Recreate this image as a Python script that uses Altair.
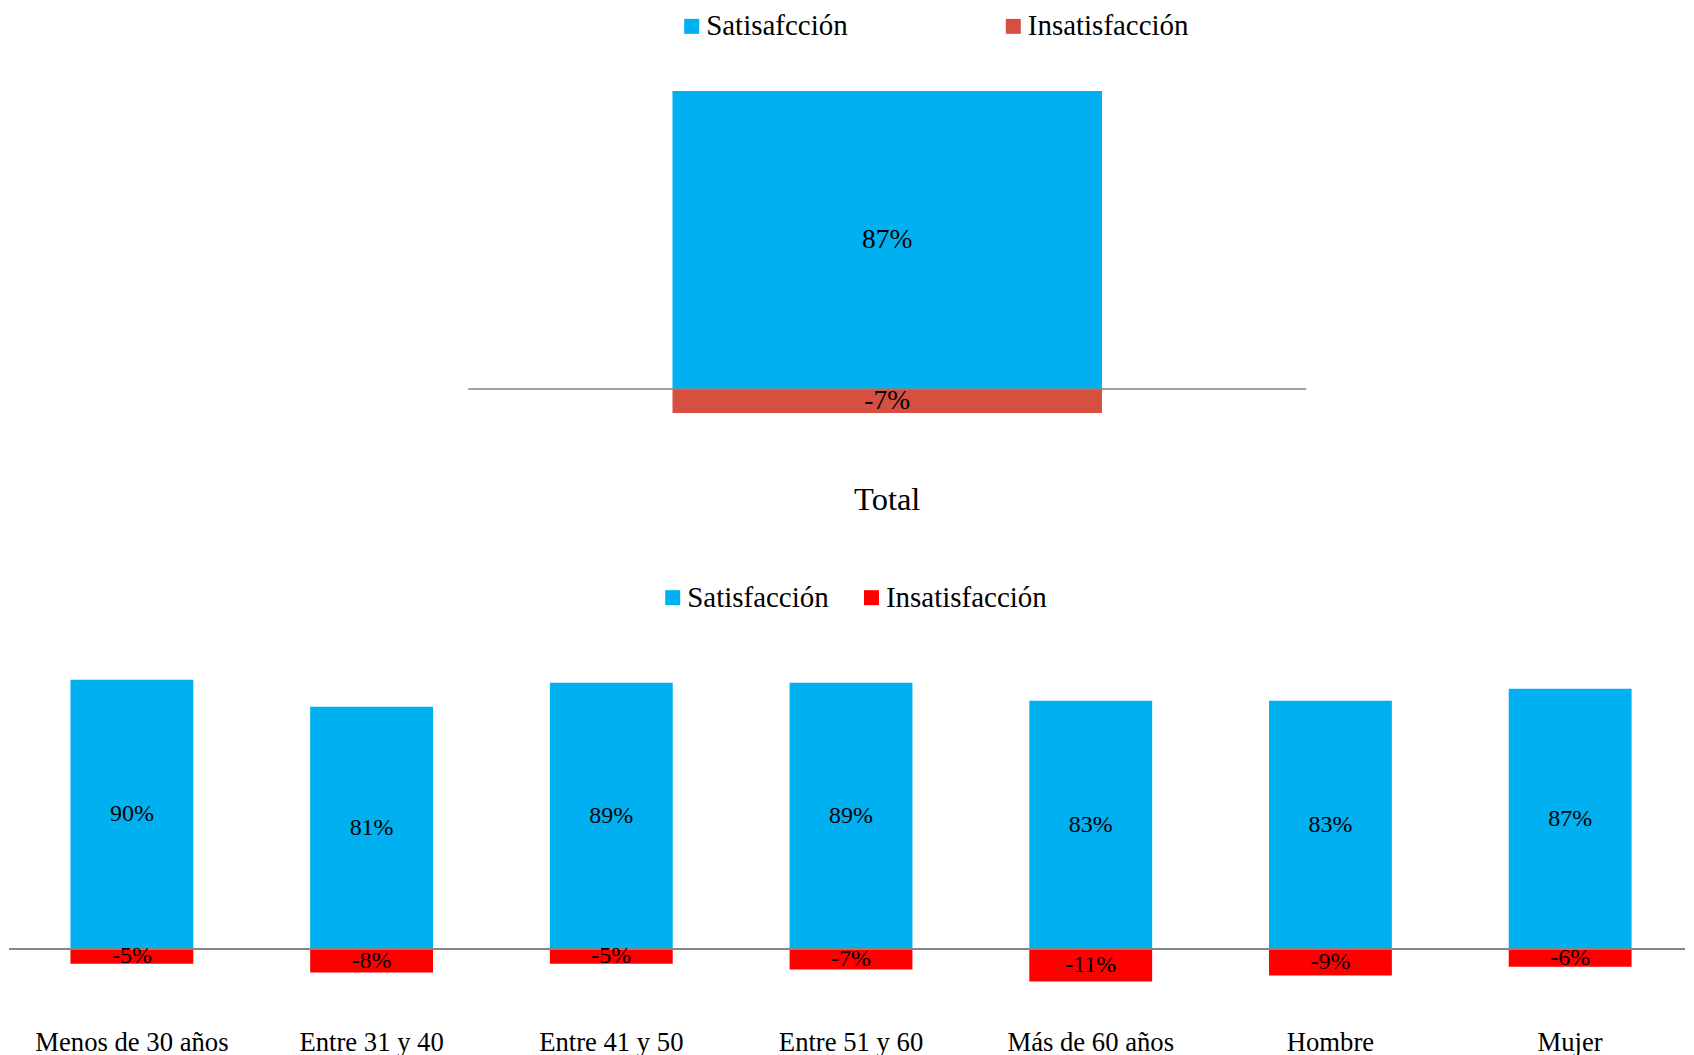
import altair as alt
import pandas as pd

# ---- data ----
top_cats = ["Total"]
top_sat = [87]
top_ins = [-7]
top_series = ["Satisafcción", "Insatisfacción"]

bot_cats = ["Menos de 30 años", "Entre 31 y 40", "Entre 41 y 50", "Entre 51 y 60",
            "Más de 60 años", "Hombre", "Mujer"]
bot_sat = [90, 81, 89, 89, 83, 83, 87]
bot_ins = [-5, -8, -5, -7, -11, -9, -6]
bot_series = ["Satisfacción", "Insatisfacción"]

BLUE = "#00B0F0"
RED_TOP = "#D55041"
RED_BOT = "#FF0000"
LINE = "#868686"
FONT = "Liberation Serif"
W = 1678


def frame(cats, sat, ins, series):
    rows = []
    for c, s, i in zip(cats, sat, ins):
        rows.append({"cat": c, "serie": series[0], "v": s, "lab": f"{s}%"})
        rows.append({"cat": c, "serie": series[1], "v": i, "lab": f"{i}%"})
    return pd.DataFrame(rows)


top_df = frame(top_cats, top_sat, top_ins, top_series)
bot_df = frame(bot_cats, bot_sat, bot_ins, bot_series)


def legend(x, y, pad):
    return alt.Legend(orient="none", legendX=x, legendY=y, direction="horizontal",
                      title=None, symbolType="square", symbolSize=225,
                      symbolStrokeWidth=0, labelFont=FONT, labelFontSize=29,
                      labelColor="black", columnPadding=pad, labelOffset=0,
                      labelLimit=400)


# ---- top chart ----
x_top = alt.X("cat:N", sort=top_cats,
              scale=alt.Scale(domain=top_cats, paddingInner=0, paddingOuter=0.5, align=0.548),
              axis=alt.Axis(title=None, domain=False, ticks=False, labelAngle=0,
                            labelFont=FONT, labelFontSize=32.5, labelColor="black",
                            labelPadding=5, labelLimit=400))
y_top = alt.Y("v:Q", stack=None, scale=alt.Scale(domain=[-26, 100], nice=False), axis=None)

tb = alt.Chart(top_df)
top_bars = tb.mark_bar(size=430).encode(
    x=x_top, y=y_top,
    color=alt.Color("serie:N", sort=top_series,
                    scale=alt.Scale(domain=top_series, range=[BLUE, RED_TOP]),
                    legend=legend(669, -35, 151)))
top_line = tb.mark_tick(size=839, thickness=1.5, color=LINE).encode(
    x=x_top, y=alt.datum(0))
top_text = tb.transform_calculate(mid="datum.v/2").mark_text(
    font=FONT, fontSize=27.5, color="black", baseline="middle").encode(
    x=x_top, y=alt.Y("mid:Q"), text="lab:N")

top = alt.layer(top_bars, top_line, top_text).properties(width=W, height=432)

# ---- bottom chart ----
x_bot = alt.X("cat:N", sort=bot_cats,
              scale=alt.Scale(domain=bot_cats, paddingInner=0.4875, paddingOuter=0.2396,
                              align=0.535),
              axis=alt.Axis(title=None, domain=False, ticks=False, labelAngle=0,
                            labelFont=FONT, labelFontSize=26.7, labelColor="black",
                            labelPadding=6, labelLimit=400))
y_bot = alt.Y("v:Q", stack=None, scale=alt.Scale(domain=[-25, 100], nice=False), axis=None)

bb = alt.Chart(bot_df)
bot_bars = bb.mark_bar().encode(
    x=x_bot, y=y_bot,
    color=alt.Color("serie:N", sort=bot_series,
                    scale=alt.Scale(domain=bot_series, range=[BLUE, RED_BOT]),
                    legend=legend(650, -67, 28)))
bot_line = bb.mark_rule(strokeWidth=1.5, color=LINE).encode(y=alt.datum(0))
bot_text = bb.transform_calculate(mid="datum.v/2").mark_text(
    font=FONT, fontSize=24, color="black", baseline="middle").encode(
    x=x_bot, y=alt.Y("mid:Q"), text="lab:N")

bottom = alt.layer(bot_bars, bot_line, bot_text).properties(width=W, height=374)

chart = alt.vconcat(top, bottom, spacing=67).resolve_scale(
    color="independent", x="independent", y="independent"
).properties(
    padding={"left": 0, "top": 3, "right": 0, "bottom": 0},
    background="white",
).configure_view(stroke=None)

chart.save("out.html", embed_options={"renderer": "svg", "actions": False})
